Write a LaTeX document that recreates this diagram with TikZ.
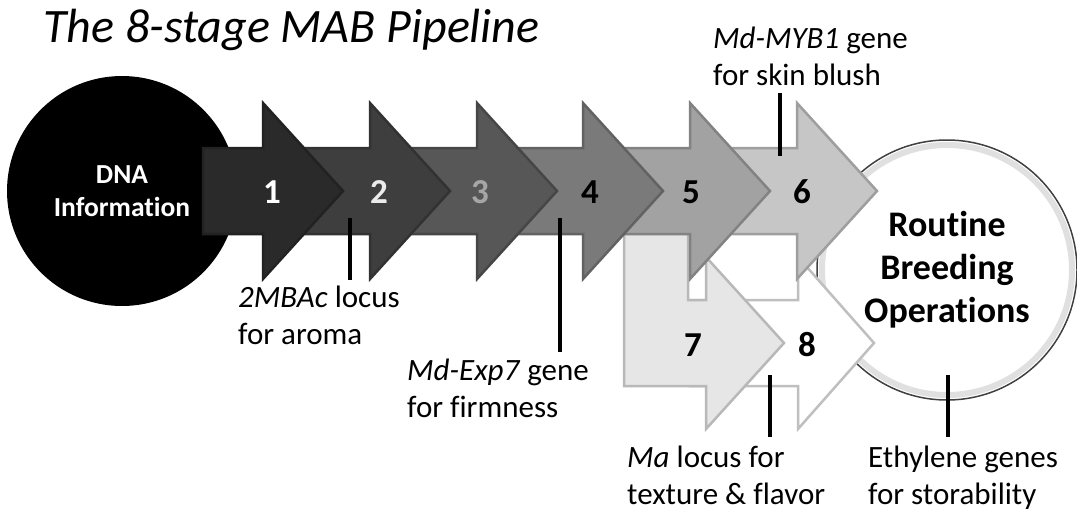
\documentclass[tikz,border=0pt]{standalone}
\usepackage{fontspec}
\setmainfont{Carlito}[Ligatures=NoCommon]
\definecolor{stageA}{HTML}{2A2A2A}
\definecolor{stageB}{HTML}{3E3E3E}
\definecolor{stageC}{HTML}{575757}
\definecolor{stageD}{HTML}{7A7A7A}
\definecolor{stageE}{HTML}{A2A2A2}
\definecolor{stageF}{HTML}{C6C6C6}
\definecolor{stageG}{HTML}{E6E6E6}
\definecolor{stageH}{HTML}{FFFFFF}
\begin{document}
\begin{tikzpicture}[x=1pt,y=-1pt,
    stagearrow/.style={line width=2.5pt, line join=miter},
    stagenum/.style={font=\bfseries\fontsize{35}{35}\selectfont},
    genelabel/.style={font=\fontsize{31}{37}\selectfont, align=left, anchor=north west, inner sep=0pt},
    labelline/.style={line width=4pt}]
  \useasboundingbox (0,0) rectangle (1077,512);
  \node[anchor=base west, inner sep=0pt, font=\itshape\fontsize{48}{48}\selectfont] (title) at (43,42) {The 8-stage MAB Pipeline};
  \node[circle, fill=black, minimum size=230pt, inner sep=0pt, text=white, align=center,
    font=\bfseries\fontsize{27.5}{33}\selectfont] (dna) at (122,191) {DNA\\Information};
  \node[circle, draw=black!75, line width=1.5pt, fill=white, minimum size=260pt, inner sep=0pt, align=center,
    font=\bfseries\fontsize{36}{43}\selectfont] (rbo) at (947,270) {Routine\\Breeding\\Operations};
  \draw[black!12, line width=6pt] (rbo.center) circle (125pt);
  \draw[stagearrow, fill=stageH, draw=stageH!75!black] (690,300) -- (798,300) -- (798,257) -- (874,343) -- (798,429) -- (798,386) -- (690,386) -- cycle;
  \draw[stagearrow, fill=stageG, draw=stageG!80!black] (624,200) -- (624,386) -- (706,386) -- (706,429) -- (784,343) -- (706,257) -- (706,300) -- (688,300) -- (688,200) -- cycle;
  \draw[stagearrow, fill=stageF, draw=stageF!80!black] (690,148) -- (797,148) -- (797,103) -- (877,191) -- (797,279) -- (797,234) -- (690,234) -- cycle;
  \draw[stagearrow, fill=stageE, draw=stageE!80!black] (583,148) -- (690,148) -- (690,103) -- (770,191) -- (690,279) -- (690,234) -- (583,234) -- cycle;
  \draw[stagearrow, fill=stageD, draw=stageD!80!black] (477,148) -- (583,148) -- (583,103) -- (663,191) -- (583,279) -- (583,234) -- (477,234) -- cycle;
  \draw[stagearrow, fill=stageC, draw=stageC!80!black] (370,148) -- (477,148) -- (477,103) -- (557,191) -- (477,279) -- (477,234) -- (370,234) -- cycle;
  \draw[stagearrow, fill=stageB, draw=stageB!80!black] (263,148) -- (370,148) -- (370,103) -- (450,191) -- (370,279) -- (370,234) -- (263,234) -- cycle;
  \draw[stagearrow, fill=stageA, draw=stageA!80!black] (203,148) -- (263,148) -- (263,103) -- (343,191) -- (263,279) -- (263,234) -- (203,234) -- cycle;
  \draw
    (272,192) node[stagenum, text=white] (n1){1}
    (379,192) node[stagenum, text=black!8] (n2){2}
    (480,192) node[stagenum, text=black!35] (n3){3}
    (590,192) node[stagenum] (n4){4}
    (691,192) node[stagenum] (n5){5}
    (802,192) node[stagenum] (n6){6}
    (693,345) node[stagenum] (n7){7}
    (807,345) node[stagenum] (n8){8};
  \node[genelabel] (mbac) at (238,286) {\textit{2MBAc} locus\\for aroma};
  \node[genelabel] (exp) at (407,359) {\textit{Md-Exp7} gene\\for firmness};
  \node[genelabel] (myb) at (713,27) {\textit{Md-MYB1} gene\\for skin blush};
  \node[genelabel] (ma) at (627,446) {\textit{Ma} locus for\\texture \& flavor};
  \node[genelabel] (eth) at (868,446) {Ethylene genes\\for storability};
  \coordinate (mbactop) at (350,218);
  \coordinate (mbacend) at (350,280);
  \coordinate (exptop) at (560,218);
  \coordinate (expend) at (560,352);
  \coordinate (mybtop) at (780,93);
  \coordinate (mybend) at (780,156);
  \coordinate (matop) at (770,375);
  \coordinate (maend) at (770,437);
  \coordinate (ethtop) at (948,375);
  \coordinate (ethend) at (948,437);
  \begin{scope}[labelline]
    \draw (mbactop) to (mbacend);
    \draw (exptop) to (expend);
    \draw (mybtop) to (mybend);
    \draw (matop) to (maend);
    \draw (ethtop) to (ethend);
  \end{scope}
\end{tikzpicture}
\end{document}
